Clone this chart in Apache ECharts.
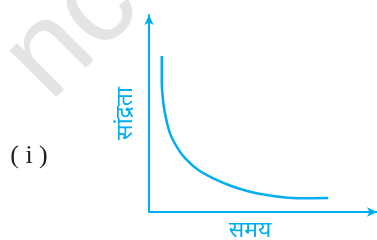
<!DOCTYPE html>
<html>
<head>
<meta charset="utf-8">
<script src="https://cdn.jsdelivr.net/npm/echarts@6/dist/echarts.min.js"></script>
<style>html,body{margin:0;padding:0;background:#fff}#c{width:377px;height:240px}</style>
</head>
<body>
<div id="c"></div>
<script>
// Curve (time vs concentration, arbitrary units 0-100)
const timeValues = [5.6, 5.6, 6.3, 7.3, 9.2, 12.2, 15.8, 21.6, 28.2, 37.0, 44.3, 51.6, 58.9, 66.2, 78.6];
const concValues = [79.2, 65.3, 55.2, 48.4, 39.9, 33.1, 27.3, 21.3, 17.1, 12.8, 10.3, 8.6, 7.5, 7.0, 7.1];
const xAxisName = 'समय';
const yAxisName = 'सांद्रता';
const panelLabel = '( i )';
const watermarkText = 'ncert';

const blue = '#00aeef';
const chart = echarts.init(document.getElementById('c'), null, {renderer: 'canvas'});
const data = timeValues.map((t, i) => [t, concValues[i]]);
chart.setOption({
  animation: false,
  grid: {left: 149, top: 15, right: 0, bottom: 28, containLabel: false, outerBoundsMode: 'none'},
  graphic: [
    {type: 'text', x: 70, y: 123, rotation: Math.PI / 4, z: -10,
     style: {text: watermarkText, fill: '#e4e4e4', font: '125px "Liberation Sans", sans-serif', verticalAlign: 'bottom'}},
    {type: 'text', x: 29, y: 156,
     style: {text: panelLabel, fill: '#231f20', font: '26px "Liberation Serif", serif', align: 'center', verticalAlign: 'middle'}}
  ],
  xAxis: {
    type: 'value', min: 0, max: 100,
    name: xAxisName, nameLocation: 'middle', nameGap: 7,
    nameTextStyle: {color: blue, fontSize: 23, fontFamily: 'Noto Sans, sans-serif', padding: [0, 26, 0, 0]},
    axisLine: {show: true, symbol: ['none', 'arrow'], symbolSize: [7, 10], lineStyle: {color: blue, width: 2}},
    axisTick: {show: false}, axisLabel: {show: false}, splitLine: {show: false}
  },
  yAxis: {
    type: 'value', min: 0, max: 100,
    name: yAxisName, nameLocation: 'middle', nameGap: 12,
    nameTextStyle: {color: blue, fontSize: 23, fontFamily: 'Noto Sans, sans-serif'},
    axisLine: {show: true, symbol: ['none', 'arrow'], symbolSize: [7, 10], lineStyle: {color: blue, width: 2}},
    axisTick: {show: false}, axisLabel: {show: false}, splitLine: {show: false}
  },
  series: [{
    type: 'line', data: data, smooth: 0.3, showSymbol: false,
    lineStyle: {color: blue, width: 2.5}
  }]
});
</script>
</body>
</html>
